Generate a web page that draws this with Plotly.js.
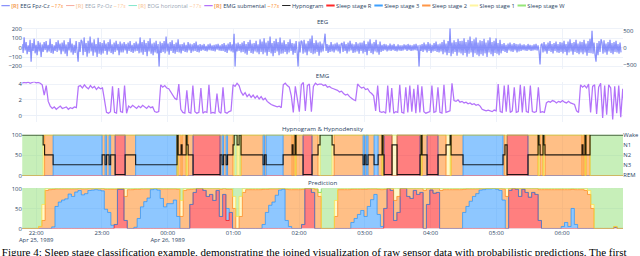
<!DOCTYPE html>
<html><head><meta charset="utf-8">
<script src="https://cdn.plot.ly/plotly-3.0.1.min.js"></script>
<style>
html,body{margin:0;padding:0;width:640px;height:256px;overflow:hidden;background:#fff}
#wrap{width:2286px;height:915px;transform:scale(0.28);transform-origin:0 0}
</style></head><body><div id="wrap"><div id="chart"></div></div>
<script>
// ---------------- DATA ----------------
const recordStartUTC = [1989, 3, 25, 21, 47, 13];   // Apr 25 1989 21:47:13
const xRange = ['1989-04-25 21:47:13', '1989-04-26 06:55:37'];
const eegStepSec = 54.75;   // resampled display step
const emgStepSec = 110;
const predStepSec = 180;

const legendNames = ['EEG Fpz-Cz', 'EEG Pz-Oz', 'EOG horizontal', 'EMG submental'];
const stageLabels = ['Sleep stage R', 'Sleep stage 3', 'Sleep stage 2', 'Sleep stage 1', 'Sleep stage W'];
const stageCodes = ['R', 'N3', 'N2', 'N1', 'W'];
const hypTickText = ['REM', 'N3', 'N2', 'N1', 'Wake'];

const eegFpzCz = [
 40,-55,110,-30,60,-70,25,-45,85,-150,50,-35,95,-60,30,-80,70,-40,55,-100,
 35,-45,60,-25,70,-50,30,-40,95,-55,40,-65,25,-35,60,-45,80,-30,45,-70,
 55,-40,80,-65,35,-90,60,-30,100,-50,45,-75,30,-55,70,-40,-150,60,-45,85,
 65,-80,110,-45,50,-95,75,-60,120,-40,55,-85,90,-50,40,-100,105,-65,60,-75,
 50,-60,80,-35,45,-75,60,-40,90,-55,35,-70,55,-45,75,-30,40,-80,65,-50,
 45,-50,60,-30,40,-65,55,-35,70,-45,30,-55,50,-40,65,-35,45,-60,110,-50,
 60,-75,85,-45,50,-90,70,-40,100,-65,45,-80,55,-50,75,-60,40,-200,65,-55,
 50,-45,70,-60,120,-40,45,-75,60,-35,80,-55,40,-65,55,-45,90,-50,35,-60,
 40,-35,55,-45,30,-50,60,-30,45,-55,35,-40,50,-35,65,-45,30,-50,40,-35,
 30,-25,40,-35,20,-40,35,-25,45,-30,25,-35,30,-40,35,-20,40,-30,25,-35,
 40,-35,50,-45,30,-55,45,-30,60,-40,35,-50,150,-200,45,-40,55,-35,40,-50,
 55,-45,70,-60,40,-75,60,-35,85,-55,45,-65,50,-40,75,-50,35,-70,90,-45,
 65,-70,100,-50,55,-85,75,-45,120,-60,50,-90,70,-55,95,-40,60,-80,110,-65,
 55,-60,80,-45,40,-70,60,-50,90,-35,50,-75,45,-55,70,-40,-200,65,-50,75,
 60,-65,85,-50,45,-80,70,-40,95,-55,130,-70,50,-60,80,-45,55,-85,65,-50,
 45,-40,55,150,-35,40,-55,30,-45,60,-40,35,-50,45,-30,55,-40,35,-60,40,
 50,-45,65,-35,40,-60,55,-40,75,-30,45,-55,35,-50,60,-40,45,-65,55,-35,
 55,-60,75,-45,40,-80,65,-35,90,-55,45,-70,60,-40,85,-50,35,-75,65,-45,
 30,-35,40,-25,35,-40,25,-30,45,-35,30,-25,40,-35,20,-40,35,-30,25,-35,
 25,-30,35,-20,30,-35,40,-25,30,-35,25,-30,35,-25,40,-30,25,-200,30,-35,
 40,-45,55,-30,35,-50,60,-35,45,-55,30,-40,50,-35,65,-45,35,-50,45,-40,
 60,-70,85,-50,45,-80,70,-55,210,-90,55,-65,80,-45,60,-85,95,-50,70,-60,
 75,-80,100,-55,60,-95,85,-65,120,-50,70,-100,90,-60,110,-75,55,-90,80,-70,
 70,-85,95,-60,55,-100,80,-50,110,-70,60,-90,75,-55,100,-65,50,-80,85,-60,
 40,-35,50,-45,30,-55,45,-30,55,-40,35,-45,50,-30,40,-50,35,-40,45,-35,
 30,-25,35,-30,25,-35,40,-25,30,-35,25,-30,35,-25,40,-30,25,-35,-180,30,
 45,-50,60,-40,35,-65,55,-35,70,-45,40,-60,50,-35,65,-50,40,-55,60,-45,
 55,-60,75,-45,40,-80,65,-50,90,-40,50,-75,60,-45,85,-55,45,-70,65,-50,
 60,-70,85,-50,45,-85,70,-55,95,-60,180,-65,55,-75,-150,50,-80,70,-45,90,
 55,-65,80,-50,45,-75,60,-40,85,-55,50,-70,60,-45,75,-50,40,-65,55,-50
];

const emgSubmental = [
 4.1,4.2,4.15,4.25,4.1,4.2,4.3,4.15,4.2,4.1,
 3.9,2.6,3.8,1.8,1.2,0.9,1.1,0.8,1.0,1.2,
 0.9,1.0,1.1,0.8,1.0,0.9,1.1,1.0,3.7,3.8,
 3.5,3.9,3.6,3.4,3.8,3.5,3.7,3.3,3.6,3.4,
 3.5,2.0,0.4,0.3,0.5,3.7,0.4,0.3,3.5,0.5,
 0.4,3.8,0.3,1.2,1.0,1.3,1.1,0.9,1.2,1.0,
 1.3,1.1,0.9,1.2,1.0,1.1,0.5,0.4,0.5,3.9,
 3.6,3.8,3.5,3.4,3.0,2.6,2.2,2.0,4.0,0.8,
 0.4,0.3,3.2,0.4,0.3,3.8,0.5,0.3,0.4,3.5,
 0.3,0.5,0.4,3.9,0.3,0.4,0.3,2.8,0.5,0.3,
 3.6,0.4,0.3,0.5,0.6,3.9,3.7,4.1,3.8,3.0,
 2.6,2.9,2.4,2.7,2.3,2.6,2.2,2.5,2.1,2.4,
 2.0,2.2,1.8,1.6,1.4,1.3,1.2,1.1,1.2,1.0,
 3.9,4.1,3.8,3.6,2.5,0.4,3.7,2.0,0.5,3.9,
 4.2,0.6,3.8,4.0,0.5,3.7,4.1,3.9,4.0,4.0,
 3.8,3.9,3.6,3.7,3.5,3.4,3.3,3.2,3.0,3.1,
 2.8,2.6,2.7,2.4,2.2,2.0,1.9,4.0,3.7,3.5,
 3.6,3.3,3.4,3.0,2.8,2.5,0.6,3.8,0.5,0.4,
 0.5,0.3,3.8,0.4,3.5,0.3,0.5,0.4,3.9,0.4,
 0.3,3.6,0.4,3.8,0.5,3.4,0.3,3.9,0.4,3.7,
 0.5,0.3,0.4,0.5,3.8,0.4,0.5,3.6,0.4,0.3,
 3.9,0.4,0.5,0.6,4.1,1.9,1.8,2.0,1.7,1.8,
 1.6,1.7,1.5,1.6,1.4,1.5,1.3,1.4,1.2,0.8,
 0.7,0.6,0.7,0.6,0.5,0.7,0.6,4.0,0.5,0.4,
 3.8,0.5,3.9,0.4,0.6,3.6,0.4,0.5,3.9,0.4,
 3.7,0.5,0.4,3.8,0.5,0.4,0.5,3.6,0.4,0.5,
 0.4,1.6,1.8,1.7,1.9,1.8,1.6,1.8,1.7,1.9,
 1.7,1.6,1.8,1.6,1.5,1.4,0.6,0.4,3.9,3.6,
 3.8,3.5,4.0,0.4,3.7,3.9,0.2,3.6,4.1,-0.3,
 3.8,0.1,3.9,3.5,-0.5,3.7,0.3,3.8,-0.2,3.4,
 0.0
];

// hypnogram: change points (minutes after recording start) and scored stage
const hypMinutes = [0,19.2,20.5,28.3,73.0,75.7,77.1,79.4,80.8,84.9,94.0,103.6,141.4,142.4,145.1,146.0,149.7,150.6,151.5,156.0,
 180.7,182.5,183.9,186.2,187.5,192.5,193.5,196.2,198.0,199.8,219.9,221.3,222.7,238.2,246.4,247.3,249.1,250.0,256.4,264.6,
 270.1,271.9,282.9,284.7,311.2,312.6,313.9,315.7,321.2,324.9,328.5,329.4,330.3,337.6,342.2,363.2,364.1,365.0,369.6,379.6,
 386.9,390.6,391.5,402.4,438.9,440.7,442.6,461.7,470.9,471.8,472.7,475.4,476.3,477.2,511.0,511.9,513.7,514.6,518.3,549];
const hypStages = ['W','N1','N2','N3','N2','N3','N2','N3','N2','R','N2','N3','W','N2','N1','N2','W','N1','N2','R',
 'N2','N3','N2','N3','N2','N1','W','N1','W','N2','N3','N2','N3','N2','N1','N2','W','N2','R','N2',
 'N1','W','N1','N2','N3','N2','N3','N2','N3','N2','W','N2','R','N1','R','N2','W','N2','R','N2',
 'N1','W','N2','N3','N2','N1','R','N2','W','N1','N2','W','N1','N2','N1','N2','W','N2','W','W'];

// predicted probabilities (%) every 3 minutes
const predR = [0,0,0,0,0,0,0,0,0,0, 0,0,0,0,0,0,0,0,0,0, 0,0,0,0,0,0,0,0,10,98,
 98,20,0,0,0,0,0,0,0,0, 0,0,0,0,0,0,0,0,0,0, 0,60,90,100,100,95,80,85,70,95,
 30,85,20,40,0,0,0,0,0,0, 0,0,0,0,0,0,0,0,0,0, 0,0,0,0,0,10,100,100,90,0,
 0,0,0,0,0,0,0,0,0,0, 0,0,0,0,0,0,0,0,0,0, 50,100,95,20,40,100,100,80,75,95,
 85,90,0,60,96,88,90,0,0,0, 0,0,0,0,0,0,0,0,0,0, 0,0,0,0,0,0,0,0,95,100,
 98,80,98,90,78,90,85,20,0,0, 0,0,0,0,0,0,0,0,0,0, 0,0,0,0,0,0,0,0,0,0, 3,0,0,0];
const predN3 = [0,0,0,0,0,0,0,0,0,4, 55,66,71,74,86,80,91,95,84,87, 95,96,97,96,94,48,40,8,0,0,
 0,0,0,0,3,25,54,67,76,97, 99,96,75,54,62,62,71,30,0,0, 0,0,0,0,0,0,0,0,0,0,
 0,0,30,0,0,0,0,0,0,0, 0,0,0,10,40,58,66,83,96,98, 20,5,0,0,0,0,0,0,0,0,
 0,0,0,0,0,0,0,0,0,0, 15,25,35,45,30,55,72,85,35,5, 0,0,0,0,0,0,0,0,0,0,
 0,0,0,0,0,0,0,0,0,0, 0,0,0,0,40,55,68,80,87,96, 97,99,99,100,98,95,71,0,0,0,
 0,0,0,0,0,0,0,0,0,0, 0,0,0,0,5,15,5,50,10,0, 0,0,0,0,0,0,0,0,0,0, 0,0,0,0];
const predN2 = [0,0,0,0,0,5,20,95,97,94, 44,33,28,25,13,19,8,5,15,12, 5,4,3,4,6,50,58,90,88,2,
 2,60,97,97,95,73,45,32,23,3, 1,4,24,45,37,37,28,68,30,95, 97,38,9,0,0,5,20,15,30,5,
 68,15,48,58,50,0,30,90,97,97, 97,97,97,88,58,41,33,16,4,2, 78,92,97,97,97,88,0,0,10,97,
 80,0,0,0,0,30,97,97,97,97, 83,73,63,53,68,44,27,14,63,92, 48,0,5,50,40,0,0,20,25,5,
 15,10,95,40,4,12,10,95,97,97, 97,97,97,97,58,44,31,19,12,4, 3,1,1,0,2,5,28,80,5,0,
 2,20,2,10,22,10,15,77,97,97, 97,97,97,97,92,82,92,48,87,97, 97,95,85,50,0,0,0,0,0,0, 2,0,0,0];
const predN1 = [0,0,0,0,0,0,40,5,3,2, 1,1,1,1,1,1,1,0,1,1, 0,0,0,0,0,2,2,2,2,0,
 0,20,3,3,2,2,1,1,1,0, 0,0,1,1,1,1,1,2,40,5, 3,2,1,0,0,0,0,0,0,0,
 2,0,2,2,30,30,50,10,3,3, 3,3,3,2,2,1,1,1,0,0, 2,3,3,3,3,2,0,0,0,3,
 10,0,0,0,0,40,3,3,3,3, 2,2,2,2,2,1,1,1,2,3, 2,0,0,30,20,0,0,0,0,0,
 0,0,5,0,0,0,0,5,3,3, 3,3,3,3,2,1,1,1,1,0, 0,0,0,0,0,0,1,20,0,0,
 0,0,0,0,0,0,0,3,3,3, 3,3,3,3,3,3,3,2,3,3, 3,5,10,10,0,0,0,0,0,0, 0,0,0,0];
const predW = [100,100,100,100,100,95,40,0,0,0, 0,0,0,0,0,0,0,0,0,0, 0,0,0,0,0,0,0,0,0,0,
 0,0,0,0,0,0,0,0,0,0, 0,0,0,0,0,0,0,0,30,0, 0,0,0,0,0,0,0,0,0,0,
 0,0,0,0,20,70,20,0,0,0, 0,0,0,0,0,0,0,0,0,0, 0,0,0,0,0,0,0,0,0,0,
 0,100,100,100,100,30,0,0,0,0, 0,0,0,0,0,0,0,0,0,0, 0,0,0,0,0,0,0,0,0,0,
 0,0,0,0,0,0,0,0,0,0, 0,0,0,0,0,0,0,0,0,0, 0,0,0,0,0,0,0,0,0,0,
 0,0,0,0,0,0,0,0,0,0, 0,0,0,0,0,0,0,0,0,0, 0,0,5,40,100,100,100,100,100,100, 95,100,100,100];

// ---------------- FIGURE ----------------
const S = 0.28, W = 2286, H = 915;
const T0 = Date.UTC.apply(null, recordStartUTC);
const fy = px => 1 - px / 256;
const tsAt = (n, stepSec) => Array.from({length: n}, (_, i) => T0 + i * stepSec * 1000);
const resName = n => '<b style="color:sandybrown">[R]</b> ' + n + ' <i style="color:#fc9944">~17s</i>';

const stageLine = ['rgb(255,0,0)', 'rgb(30,144,255)', 'rgb(255,127,14)', 'rgb(255,225,60)', 'rgb(110,215,80)'];
const stageLegend = ['rgb(255,40,40)', 'rgb(60,160,255)', 'rgb(255,150,70)', 'rgb(255,245,160)', 'rgb(150,230,120)'];
const stageFill = ['rgba(255,0,0,0.5)', 'rgba(30,144,255,0.5)', 'rgba(255,127,14,0.5)', 'rgba(255,240,120,0.4)', 'rgba(130,220,100,0.45)'];
const stageLevel = {R: 0, N3: 1, N2: 2, N1: 3, W: 4};

const traces = [];
traces.push({type: 'scatter', mode: 'lines', name: resName(legendNames[0]), x: tsAt(eegFpzCz.length, eegStepSec), y: eegFpzCz,
  xaxis: 'x', yaxis: 'y', line: {color: '#636efa', width: 4.5}, opacity: 0.75});
traces.push({type: 'scatter', mode: 'lines', name: resName(legendNames[1]), x: [T0], y: [null], xaxis: 'x', yaxis: 'y2',
  line: {color: '#EF553B', width: 3.5}, visible: 'legendonly'});
traces.push({type: 'scatter', mode: 'lines', name: resName(legendNames[2]), x: [T0], y: [null], xaxis: 'x', yaxis: 'y2',
  line: {color: '#00cc96', width: 3.5}, visible: 'legendonly'});
traces.push({type: 'scatter', mode: 'lines', name: resName(legendNames[3]), x: tsAt(emgSubmental.length, emgStepSec), y: emgSubmental,
  xaxis: 'x2', yaxis: 'y3', line: {color: '#ab63fa', width: 4.5}, opacity: 0.9});

const hypX = hypMinutes.map(m => T0 + m * 60000);
traces.push({type: 'scatter', mode: 'lines', name: 'Hypnogram', x: hypX, y: hypStages.map(s => stageLevel[s]),
  xaxis: 'x3', yaxis: 'y5', line: {color: 'rgba(0,0,0,0.85)', width: 4, shape: 'hv'}});

// legend entries for the stage colours
stageLabels.forEach((lab, k) => {
  traces.push({type: 'scatter', mode: 'lines', name: lab, x: [T0], y: [null], xaxis: 'x4', yaxis: 'y6',
    line: {color: stageLegend[k], width: 7}, hoverinfo: 'skip'});
});

stageCodes.forEach((c, k) => {
  traces.push({type: 'scatter', mode: 'lines', name: stageLabels[k], showlegend: false, x: hypX,
    y: hypStages.map(s => s === c ? 100 : 0), xaxis: 'x3', yaxis: 'y4', stackgroup: 'hyp',
    line: {color: stageLine[k], width: 2.5, shape: 'hv'}, fillcolor: stageFill[k]});
});
const predSeries = [predR, predN3, predN2, predN1, predW];
predSeries.forEach((arr, k) => {
  traces.push({type: 'scatter', mode: 'lines', name: stageLabels[k], showlegend: false, x: tsAt(arr.length, predStepSec), y: arr,
    xaxis: 'x4', yaxis: 'y6', stackgroup: 'pred', line: {color: stageLine[k], width: 2.5, shape: 'hv'}, fillcolor: stageFill[k]});
});

const grid = '#EBF0F8';
const tf = {size: 21, color: '#2a3f5f'};
const xBase = {type: 'date', range: xRange, showgrid: true, gridcolor: grid, gridwidth: 3, zeroline: false,
  showline: false, ticks: '', dtick: 3600000, tick0: '1989-04-25 22:00', tickfont: tf};
const yBase = {showgrid: true, gridcolor: grid, gridwidth: 3, zeroline: true, zerolinecolor: grid, zerolinewidth: 4,
  showline: false, ticks: '', tickfont: tf};

const layout = {
  width: W, height: H,
  margin: {l: 22 / S, r: 17 / S, t: 0, b: 0, autoexpand: false},
  paper_bgcolor: '#fff', plot_bgcolor: '#fff',
  font: {family: '"Open Sans", Arial, sans-serif', size: 21, color: '#2a3f5f'},
  showlegend: true,
  legend: {orientation: 'h', xref: 'container', x: 0, y: 1, xanchor: 'left', yanchor: 'top', traceorder: 'normal',
    font: {size: 20.5, color: '#2a3f5f'}, bgcolor: 'rgba(0,0,0,0)', tracegroupgap: 0},
  xaxis:  Object.assign({}, xBase, {domain: [0, 1], anchor: 'y', matches: 'x4', showticklabels: false}),
  xaxis2: Object.assign({}, xBase, {domain: [0, 1], anchor: 'y3', matches: 'x4', showticklabels: false}),
  xaxis3: Object.assign({}, xBase, {domain: [0, 1], anchor: 'y4', matches: 'x4', showticklabels: false}),
  xaxis4: Object.assign({}, xBase, {domain: [0, 1], anchor: 'y6'}),
  yaxis:  Object.assign({}, yBase, {domain: [fy(69), fy(28.5)], anchor: 'x', range: [-228, 205], dtick: 100}),
  yaxis2: Object.assign({}, yBase, {domain: [fy(69), fy(28.5)], anchor: 'x', overlaying: 'y', side: 'right',
    range: [-634, 571], dtick: 500, showgrid: false, zeroline: false}),
  yaxis3: Object.assign({}, yBase, {domain: [fy(122.1), fy(81.6)], anchor: 'x2', range: [-0.84, 4.3], dtick: 2}),
  yaxis4: Object.assign({}, yBase, {domain: [fy(175.7), fy(134.7)], anchor: 'x3', range: [0, 100], tickvals: [0, 50, 100]}),
  yaxis5: Object.assign({}, yBase, {domain: [fy(175.7), fy(134.7)], anchor: 'x3', overlaying: 'y4', side: 'right',
    range: [-0.12, 4.02], tickvals: [0, 1, 2, 3, 4], ticktext: hypTickText, showgrid: false, zeroline: false}),
  yaxis6: Object.assign({}, yBase, {domain: [fy(228.3), fy(188.3)], anchor: 'x4', range: [0, 100], tickvals: [0, 50, 100]}),
  annotations: [
    {text: 'EEG', x: 0.5, y: fy(21), xref: 'paper', yref: 'paper', showarrow: false, yanchor: 'middle', font: {size: 22, color: '#2a3f5f'}},
    {text: 'EMG', x: 0.5, y: fy(75.5), xref: 'paper', yref: 'paper', showarrow: false, yanchor: 'middle', font: {size: 22, color: '#2a3f5f'}},
    {text: 'Hypnogram &amp; Hypnodensity', x: 0.5, y: fy(128.5), xref: 'paper', yref: 'paper', showarrow: false, yanchor: 'middle', font: {size: 22, color: '#2a3f5f'}},
    {text: 'Prediction', x: 0.5, y: fy(182), xref: 'paper', yref: 'paper', showarrow: false, yanchor: 'middle', font: {size: 22, color: '#2a3f5f'}},
    {text: 'Figure 4: Sleep stage classification example, demonstrating the joined visualization of raw sensor data with probabilistic predictions. The first',
      x: (1 - 22) / 601, y: fy(245.3), xref: 'paper', yref: 'paper', xanchor: 'left', yanchor: 'top', showarrow: false,
      font: {family: '"Liberation Serif", "DejaVu Serif", serif', size: 39.3, color: '#000'}}
  ]
};

Plotly.newPlot('chart', traces, layout, {staticPlot: true, displayModeBar: false});
</script></body></html>
